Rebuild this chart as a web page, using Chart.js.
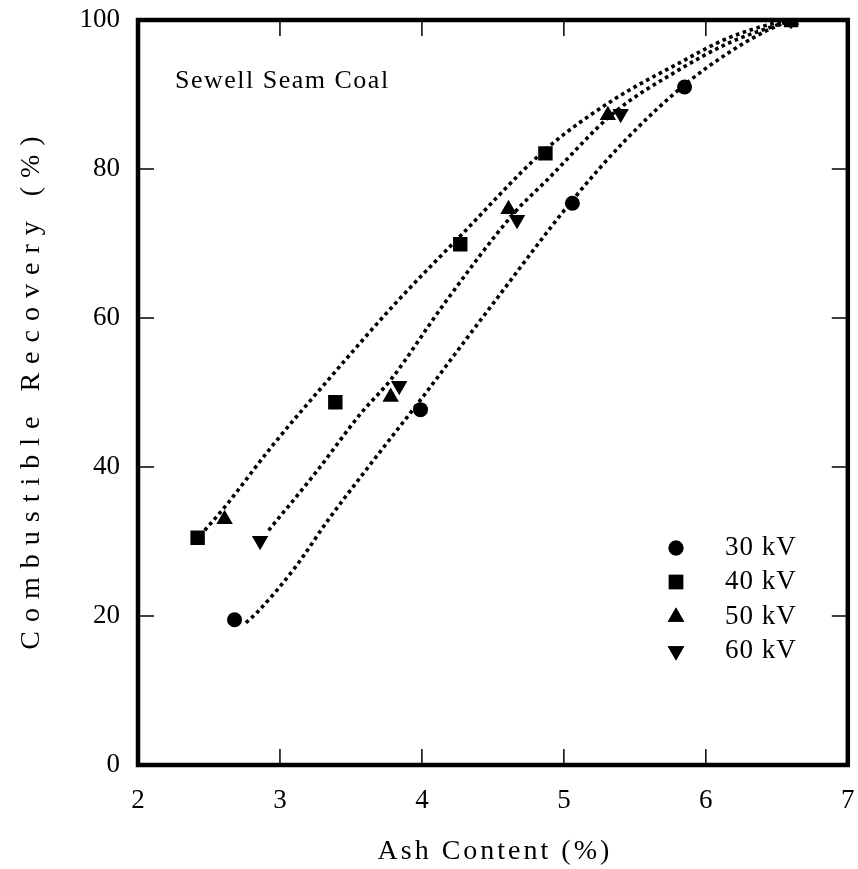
<!DOCTYPE html>
<html><head><meta charset="utf-8">
<script src="https://cdn.jsdelivr.net/npm/chart.js@4.4.1/dist/chart.umd.min.js"></script>
<style>html,body{margin:0;padding:0;background:#fff}canvas{display:block}</style>
</head><body>
<canvas id="c" width="858" height="869"></canvas>
<script>
// ---- data ----
const seriesLabels = ['30 kV', '40 kV', '50 kV', '60 kV'];
const ash30 = [2.68, 3.99, 5.06, 5.85, 6.60];
const rec30 = [19.5, 47.7, 75.4, 91.0, 100];
const ash40 = [2.42, 3.39, 4.27, 4.87, 6.60];
const rec40 = [30.5, 48.7, 69.9, 82.1, 100];
const ash50 = [2.61, 3.78, 4.61, 5.31, 6.60];
const rec50 = [33.0, 49.4, 74.6, 87.2, 100];
const ash60 = [2.86, 3.84, 4.67, 5.40, 6.60];
const rec60 = [30.1, 50.9, 73.2, 87.4, 100];
// dotted fitted curves
const fitUpperAsh = [2.47, 2.61, 2.94, 3.34, 3.81, 4.27, 4.87, 5.35, 5.81, 6.16, 6.51, 6.60];
const fitUpperRec = [31.5, 34.6, 42.7, 51.7, 61.9, 71.0, 82.6, 89.3, 94.2, 97.6, 99.7, 100];
const fitMiddleAsh = [2.92, 3.25, 3.57, 3.78, 4.16, 4.65, 4.88, 5.35, 5.81, 6.16, 6.60];
const fitMiddleRec = [31.5, 39.2, 47.2, 51.7, 62.0, 74.1, 78.5, 87.5, 93.3, 96.9, 100];
const fitLowerAsh = [2.76, 2.84, 3.11, 3.34, 3.57, 3.81, 3.99, 4.27, 4.48, 5.06, 5.44, 5.85, 6.16, 6.40, 6.60];
const fitLowerRec = [19.1, 20.5, 26.6, 32.9, 38.7, 44.6, 49.0, 56.1, 61.4, 75.8, 84.0, 91.3, 95.6, 98.3, 100];
const xTicks = [2, 3, 4, 5, 6, 7];
const yTicks = [0, 20, 40, 60, 80, 100];
const xTitle = 'Ash Content (%)';
const yTitle = 'Combustible Recovery (%)';
const noteText = 'Sewell Seam Coal';

const FONT = '"Liberation Serif", "Times New Roman", serif';
const pts = (xs, ys) => xs.map((x, i) => ({x: x, y: ys[i]}));

const markerStyles = [
  {pointStyle: 'circle', radius: 7.5, rotation: 0},
  {pointStyle: 'rect', radius: 10.2, rotation: 0},
  {pointStyle: 'triangle', radius: 9.5, rotation: 0},
  {pointStyle: 'triangle', radius: 9.5, rotation: 180}
];
const markerData = [pts(ash30, rec30), pts(ash40, rec40), pts(ash50, rec50), pts(ash60, rec60)];

const datasets = markerData.map((d, i) => ({
  label: seriesLabels[i],
  data: d,
  showLine: false,
  pointStyle: markerStyles[i].pointStyle,
  pointRadius: markerStyles[i].radius,
  pointRotation: markerStyles[i].rotation,
  pointBackgroundColor: '#000',
  pointBorderColor: '#000',
  pointBorderWidth: 0
}));
[pts(fitUpperAsh, fitUpperRec), pts(fitMiddleAsh, fitMiddleRec), pts(fitLowerAsh, fitLowerRec)].forEach((d, i) => {
  datasets.push({
    label: 'fit' + i,
    data: d,
    showLine: true,
    pointRadius: 0,
    borderColor: '#000',
    borderWidth: 3.6,
    borderDash: [3.6, 3.6],
    borderCapStyle: 'butt',
    cubicInterpolationMode: 'monotone',
    fill: false
  });
});

const framePlugin = {
  id: 'frame',
  beforeDatasetsDraw(chart) {
    const {ctx, chartArea: a, scales} = chart;
    ctx.save();
    ctx.strokeStyle = '#000';
    ctx.lineWidth = 1.5;
    const tl = 16;
    ctx.beginPath();
    xTicks.slice(1, -1).forEach(v => {
      const px = scales.x.getPixelForValue(v);
      ctx.moveTo(px, a.bottom); ctx.lineTo(px, a.bottom - tl);
      ctx.moveTo(px, a.top); ctx.lineTo(px, a.top + tl);
    });
    yTicks.slice(1, -1).forEach(v => {
      const py = scales.y.getPixelForValue(v);
      ctx.moveTo(a.left, py); ctx.lineTo(a.left + tl, py);
      ctx.moveTo(a.right, py); ctx.lineTo(a.right - tl, py);
    });
    ctx.stroke();
    ctx.lineWidth = 4.5;
    ctx.strokeRect(a.left, a.top, a.right - a.left, a.bottom - a.top);
    ctx.restore();
  },
  afterDraw(chart) {
    const {ctx, chartArea: a} = chart;
    ctx.save();
    ctx.fillStyle = '#000';
    // axis titles
    ctx.font = '28px ' + FONT;
    ctx.textAlign = 'center';
    ctx.textBaseline = 'middle';
    ctx.letterSpacing = '3px';
    ctx.fillText(xTitle, (a.left + a.right) / 2 + 2, 852);
    ctx.save();
    ctx.translate(32, (a.top + a.bottom) / 2);
    ctx.rotate(-Math.PI / 2);
    ctx.letterSpacing = '9px';
    ctx.fillText(yTitle, 4, 0);
    ctx.restore();
    // annotation
    ctx.font = '26px ' + FONT;
    ctx.letterSpacing = '1.5px';
    ctx.textAlign = 'left';
    ctx.fillText(noteText, 175, 81);
    // legend
    ctx.font = '27px ' + FONT;
    ctx.letterSpacing = '1px';
    const rows = [548, 582, 617, 651];
    seriesLabels.forEach((lab, i) => {
      const m = markerStyles[i];
      Chart.helpers.drawPoint(ctx, {pointStyle: m.pointStyle, radius: m.radius, rotation: m.rotation, borderWidth: 0}, 676, rows[i]);
      ctx.fillStyle = '#000';
      ctx.fill();
      ctx.fillText(lab, 725, rows[i]);
    });
    ctx.restore();
  }
};

new Chart(document.getElementById('c'), {
  type: 'scatter',
  data: {datasets: datasets},
  options: {
    responsive: false,
    animation: false,
    layout: {padding: {top: 20, right: 5, left: 0, bottom: 0}},
    plugins: {legend: {display: false}, tooltip: {enabled: false}, title: {display: false}},
    scales: {
      x: {
        type: 'linear', min: 2, max: 7,
        afterBuildTicks: s => { s.ticks = xTicks.map(v => ({value: v})); },
        afterFit: s => { s.height = 104; s.paddingLeft = 0; s.paddingRight = 0; },
        grid: {display: false, drawTicks: false},
        border: {display: false},
        ticks: {color: '#000', padding: 20, font: {family: FONT, size: 27}}
      },
      y: {
        type: 'linear', min: 0, max: 100,
        afterBuildTicks: s => { s.ticks = yTicks.map(v => ({value: v})); },
        afterFit: s => { s.width = 138; s.paddingTop = 0; s.paddingBottom = 0; },
        grid: {display: false, drawTicks: false},
        border: {display: false},
        ticks: {color: '#000', padding: 18, font: {family: FONT, size: 27}}
      }
    }
  },
  plugins: [framePlugin]
});
</script>
</body></html>
